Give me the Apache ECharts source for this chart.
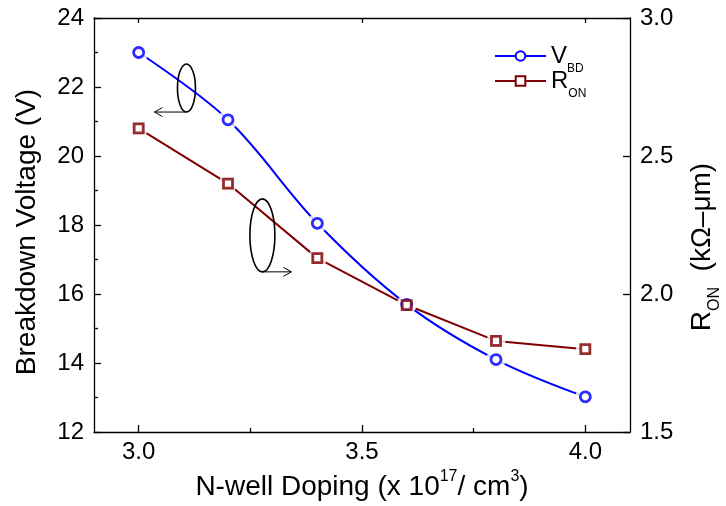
<!DOCTYPE html>
<html>
<head>
<meta charset="utf-8">
<script src="https://cdn.jsdelivr.net/npm/echarts@6/dist/echarts.min.js"></script>
<style>
  html, body { margin: 0; padding: 0; background: #fff; }
  #main { width: 726px; height: 506px; }
</style>
</head>
<body>
<div id="main"></div>
<script>
// N-well doping (x 1e17 / cm^3)
var doping = [3.0, 3.2, 3.4, 3.6, 3.8, 4.0];
// breakdown voltage (V), left axis
var vbd = [23.0, 21.05, 18.05, 15.7, 14.1, 13.02];
// on resistance (kOhm-um), right axis
var ron = [2.6, 2.4, 2.13, 1.96, 1.83, 1.80];

var xTicks = [3.0, 3.5, 4.0];
var xMinorTicks = [3.25, 3.75];

// ellipse + arrow callouts, in data coords of the left axis
var callouts = [
  { x: 3.107, y: 21.97, rx: 9, ry: 24, dir: -1, len: 32 },
  { x: 3.277, y: 17.7, rx: 12.5, ry: 36.5, dir: 1, len: 29 }
];

var BLUE = '#0000ff';
var RED = '#800000';
var FONT = 'Liberation Sans, Arial, sans-serif';

function pairs(xs, ys) {
  return xs.map(function (x, i) { return [x, ys[i]]; });
}

var axisLine = { show: true, lineStyle: { color: '#000', width: 1.3 } };

var chart = echarts.init(document.getElementById('main'));
chart.setOption({
  animation: false,
  backgroundColor: '#fff',
  textStyle: { fontFamily: FONT },
  grid: { left: 94, right: 96, top: 18, bottom: 74, outerBoundsMode: 'none' },
  legend: {
    orient: 'vertical',
    left: 489,
    top: 39,
    itemWidth: 51,
    itemHeight: 12,
    itemGap: -6,
    data: ['vbd', 'ron'],
    formatter: function (name) {
      return name === 'vbd' ? '{m|V}{s|BD}' : '{m|R}{s|ON}';
    },
    textStyle: {
      rich: {
        m: { fontSize: 24, lineHeight: 38, color: '#000', fontFamily: FONT },
        s: { fontSize: 12, lineHeight: 12, verticalAlign: 'bottom', color: '#000', fontFamily: FONT }
      }
    }
  },
  xAxis: [{
    type: 'value',
    min: 2.9,
    max: 4.1,
    position: 'bottom',
    axisLine: axisLine,
    splitLine: { show: false },
    axisTick: { inside: true, length: 7, customValues: xTicks, lineStyle: { color: '#000', width: 1.3 } },
    axisLabel: {
      customValues: xTicks, margin: 8, fontSize: 24, color: '#000', fontFamily: FONT,
      formatter: function (v) { return v.toFixed(1); }
    },
    name: '{m|N-well Doping (x 10}{p|17}{m|/ cm}{p|3}{m|)}',
    nameLocation: 'middle',
    nameGap: 37,
    nameTextStyle: {
      rich: {
        m: { fontSize: 28, lineHeight: 36, color: '#000', fontFamily: FONT },
        p: { fontSize: 16, lineHeight: 16, verticalAlign: 'top', color: '#000', fontFamily: FONT }
      }
    }
  }, {
    type: 'value',
    min: 2.9,
    max: 4.1,
    position: 'top',
    axisLine: axisLine,
    splitLine: { show: false },
    axisTick: { inside: true, length: 5, customValues: xTicks, lineStyle: { color: '#000', width: 1.3 } },
    axisLabel: { show: false }
  }, {
    type: 'value',
    min: 2.9,
    max: 4.1,
    position: 'bottom',
    axisLine: { show: false },
    splitLine: { show: false },
    axisTick: { inside: true, length: 4, customValues: xMinorTicks, lineStyle: { color: '#000', width: 1.3 } },
    axisLabel: { show: false }
  }],
  yAxis: [{
    type: 'value',
    min: 12,
    max: 24,
    interval: 2,
    position: 'left',
    axisLine: axisLine,
    splitLine: { show: false },
    axisTick: { inside: true, length: 7, lineStyle: { color: '#000', width: 1.3 } },
    minorTick: { show: true, splitNumber: 2, length: 4, lineStyle: { color: '#000', width: 1.3 } },
    minorSplitLine: { show: false },
    axisLabel: { margin: 10, fontSize: 24, color: '#000', fontFamily: FONT },
    name: 'Breakdown Voltage (V)',
    nameLocation: 'middle',
    nameRotate: 90,
    nameGap: 53,
    nameTextStyle: { fontSize: 28, color: '#000', fontFamily: FONT, padding: [0, 14, 0, 0] }
  }, {
    type: 'value',
    min: 1.5,
    max: 3.0,
    interval: 0.5,
    position: 'right',
    axisLine: axisLine,
    splitLine: { show: false },
    axisTick: { inside: true, length: 7, lineStyle: { color: '#000', width: 1.3 } },
    axisLabel: {
      margin: 10, fontSize: 24, color: '#000', fontFamily: FONT,
      formatter: function (v) { return v.toFixed(1); }
    },
    name: '{m|R}{s|ON}{m|  (kΩ–μm)}',
    nameLocation: 'middle',
    nameRotate: 90,
    nameGap: 51,
    nameTextStyle: {
      padding: [0, 44, 0, 0],
      rich: {
        m: { fontSize: 28, lineHeight: 42, color: '#000', fontFamily: FONT },
        s: { fontSize: 16, lineHeight: 16, verticalAlign: 'bottom', color: '#000', fontFamily: FONT }
      }
    }
  }],
  series: [{
    name: 'ron',
    type: 'line',
    yAxisIndex: 1,
    z: 2,
    data: pairs(doping, ron),
    symbol: 'rect',
    symbolSize: 9,
    lineStyle: { color: RED, width: 2 },
    itemStyle: { color: '#fff', borderColor: RED, borderWidth: 2.6 }
  }, {
    name: 'vbd',
    type: 'line',
    yAxisIndex: 0,
    z: 2,
    smooth: 0.35,
    data: pairs(doping, vbd),
    symbol: 'circle',
    symbolSize: 10,
    lineStyle: { color: BLUE, width: 2 },
    itemStyle: { color: '#fff', borderColor: BLUE, borderWidth: 2.6 }
  }, {
    name: 'halo-vbd',
    type: 'scatter',
    yAxisIndex: 0,
    z: 3,
    silent: true,
    data: pairs(doping, vbd),
    symbol: 'circle',
    symbolSize: 20,
    itemStyle: { color: '#fff' }
  }, {
    name: 'halo-ron',
    type: 'scatter',
    yAxisIndex: 1,
    z: 3,
    silent: true,
    data: pairs(doping, ron),
    symbol: 'circle',
    symbolSize: 19,
    itemStyle: { color: '#fff' }
  }, {
    name: 'mark-vbd',
    type: 'scatter',
    yAxisIndex: 0,
    z: 4,
    data: pairs(doping, vbd),
    symbol: 'circle',
    symbolSize: 10,
    itemStyle: { color: '#fff', borderColor: BLUE, borderWidth: 2.8 }
  }, {
    name: 'mark-ron',
    type: 'scatter',
    yAxisIndex: 1,
    z: 5,
    data: pairs(doping, ron),
    symbol: 'rect',
    symbolSize: 9,
    itemStyle: { color: '#fff', borderColor: RED, borderWidth: 2.8 }
  }]
});

// callout ellipses with arrows
var graphics = [];
callouts.forEach(function (c) {
  var p = chart.convertToPixel({ xAxisIndex: 0, yAxisIndex: 0 }, [c.x, c.y]);
  var bx = p[0], by = p[1] + c.ry;
  var tx = bx + c.dir * c.len;
  graphics.push({
    type: 'ellipse', z: 10,
    shape: { cx: p[0], cy: p[1], rx: c.rx, ry: c.ry },
    style: { fill: null, stroke: '#000', lineWidth: 1.6 }
  });
  graphics.push({
    type: 'line', z: 10,
    shape: { x1: bx, y1: by, x2: tx, y2: by },
    style: { stroke: '#000', lineWidth: 1 }
  });
  graphics.push({
    type: 'polyline', z: 10,
    shape: { points: [[tx - c.dir * 8, by - 4.5], [tx, by], [tx - c.dir * 8, by + 4.5]] },
    style: { fill: null, stroke: '#000', lineWidth: 1 }
  });
});
chart.setOption({ graphic: graphics });
</script>
</body>
</html>
